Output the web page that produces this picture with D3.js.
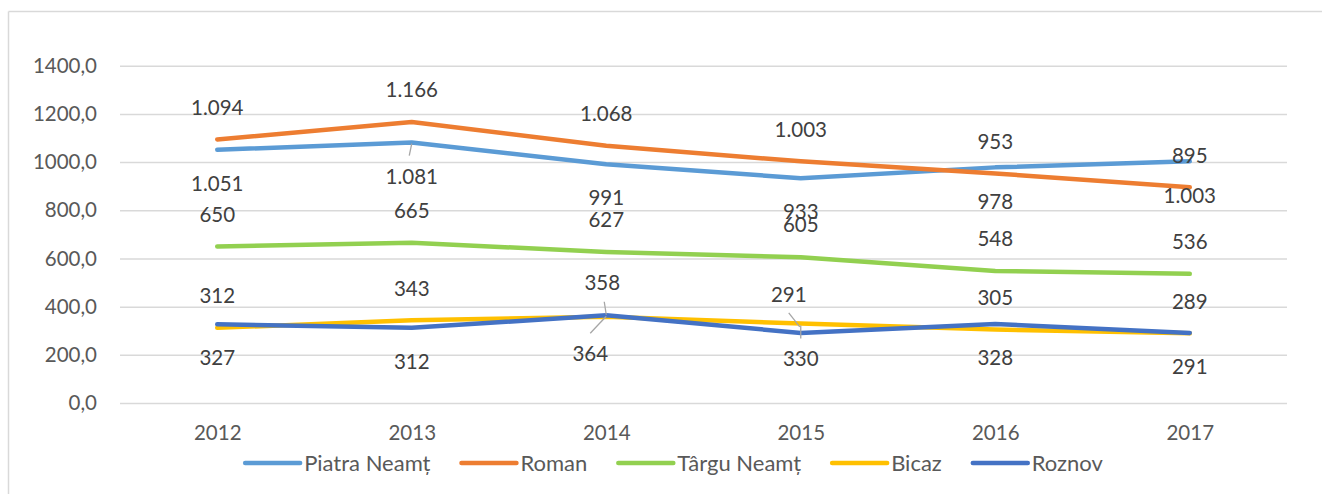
<!DOCTYPE html>
<html>
<head>
<meta charset="utf-8">
<script src="https://cdn.jsdelivr.net/npm/d3@7"></script>
<style>
  body { margin: 0; background: #fff; }
  svg text { font-family: Lato, "Open Sans", sans-serif; }
</style>
</head>
<body>
<svg id="chart" width="1322" height="494"></svg>
<script>
var years = ["2012", "2013", "2014", "2015", "2016", "2017"],
    yTicks = [0, 200, 400, 600, 800, 1000, 1200, 1400]

var piatraNeamt = [1051, 1081, 991, 933, 978, 1003],
    roman = [1094, 1166, 1068, 1003, 953, 895],
    targuNeamt = [650, 665, 627, 605, 548, 536],
    bicaz = [312, 343, 358, 330, 305, 289],
    roznov = [327, 312, 364, 291, 328, 291]

var seriesNames = ["Piatra Neamț", "Roman", "Târgu Neamț", "Bicaz", "Roznov"],
    seriesValues = [piatraNeamt, roman, targuNeamt, bicaz, roznov],
    colors = ["#5B9BD5", "#ED7D31", "#92D050", "#FFC000", "#4472C4"],
    // label side per series: -1 above, 1 below
    labelSide = [1, -1, -1, -1, 1]

var svg = d3.select("#chart")

var x = d3.scalePoint().domain(years).range([120, 1287]).padding(0.5),
    y = d3.scaleLinear().domain([0, 1400]).range([403, 65.7])

// frame
svg.append("line").attr("x1", 8.5).attr("x2", 1322).attr("y1", 11.5).attr("y2", 11.5)
    .attr("stroke", "#D9D9D9").attr("stroke-width", 1.5)
svg.append("line").attr("x1", 8.5).attr("x2", 8.5).attr("y1", 11.5).attr("y2", 494)
    .attr("stroke", "#D9D9D9").attr("stroke-width", 1.5)

// grid + y labels
var yAxis = d3.axisLeft(y).tickValues(yTicks).tickSize(-1167).tickPadding(23)
    .tickFormat(function(d) { return d3.format(".1f")(d).replace(".", ",") })

svg.append("g").attr("transform", "translate(120,0)").call(yAxis)
    .call(function(g) {
        g.select(".domain").remove()
        g.selectAll(".tick line").attr("stroke", "#D9D9D9").attr("stroke-width", 1.5)
        g.selectAll(".tick text").attr("fill", "#595959").attr("font-size", 20.5)
            .style("font-family", "Lato, sans-serif")
    })

// x labels
var xAxis = d3.axisBottom(x).tickSize(0).tickPadding(22)
svg.append("g").attr("transform", "translate(0,403)").call(xAxis)
    .call(function(g) {
        g.select(".domain").remove()
        g.selectAll(".tick text").attr("fill", "#595959").attr("font-size", 20.5)
            .style("font-family", "Lato, sans-serif")
    })

// lines
var line = d3.line().x(function(d, i) { return x(years[i]) }).y(function(d) { return y(d) })

svg.append("g").selectAll("path").data(seriesValues).join("path")
    .attr("d", line)
    .attr("fill", "none")
    .attr("stroke", function(d, i) { return colors[i] })
    .attr("stroke-width", 4.5)
    .attr("stroke-linecap", "round")
    .attr("stroke-linejoin", "round")

// data labels, a few were dragged away in the original
var nudges = {
    "0-1": { leader: [[-2.5, 13], [0, 1]] },
    "3-2": { dx: -4, dy: -34, leader: [[-2, -15], [0, -2]] },
    "4-2": { dx: -16, dy: 39, leader: [[-16, 18], [0, 1]] },
    "4-3": { dx: -12, dy: -38, leader: [[-12, -20], [-1, -6]] },
    "3-3": { dy: 35, leader: [[0, 15], [0, 2]] }
}

var fmt = function(v) { return d3.format(",")(v).replace(/,/g, ".") }

var labels = svg.append("g")
seriesValues.forEach(function(vals, s) {
    vals.forEach(function(v, i) {
        var n = nudges[s + "-" + i] || {},
            px = x(years[i]),
            py = y(v),
            dx = n.dx || 0,
            dy = n.dy || (labelSide[s] < 0 ? -32 : 34)

        if (n.leader) {
            labels.append("line")
                .attr("x1", px + n.leader[0][0]).attr("y1", py + n.leader[0][1])
                .attr("x2", px + n.leader[1][0]).attr("y2", py + n.leader[1][1])
                .attr("stroke", "#A6A6A6").attr("stroke-width", 1.3)
        }

        labels.append("text")
            .attr("x", px + dx)
            .attr("y", py + dy)
            .attr("dy", "0.35em")
            .attr("text-anchor", "middle")
            .attr("fill", "#404040")
            .attr("font-size", 20.5)
            .text(fmt(v))
    })
})

// legend
var legend = svg.append("g"),
    cursor = 0

seriesNames.forEach(function(name, i) {
    var g = legend.append("g")
    g.append("line").attr("x1", 0).attr("x2", 55).attr("y1", 0).attr("y2", 0)
        .attr("stroke", colors[i]).attr("stroke-width", 4.5).attr("stroke-linecap", "round")
    var t = g.append("text").attr("x", 59).attr("dy", "0.35em")
        .attr("fill", "#595959").attr("font-size", 22).text(name)
    var w = 59 + t.node().getComputedTextLength()
    g.attr("transform", "translate(" + cursor + ",0)")
    cursor += w + 31
})

var total = cursor - 31
legend.attr("transform", "translate(" + (674 - total / 2) + ",463)")
</script>
</body>
</html>
